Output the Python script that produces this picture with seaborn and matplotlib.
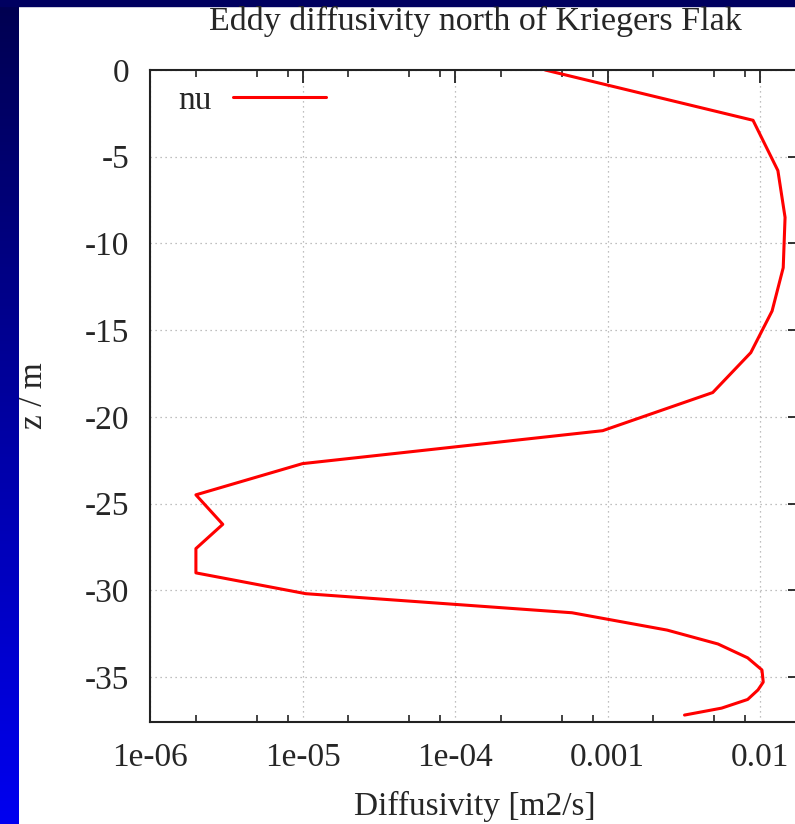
import numpy as np
import matplotlib
matplotlib.use('Agg')
import matplotlib.pyplot as plt
import seaborn as sns
from matplotlib.ticker import LogLocator, FixedLocator, NullFormatter, FuncFormatter

# profile
depth = [0.0, -2.9, -5.8, -8.5, -11.4, -13.9, -16.3, -18.6, -20.8, -22.7,
         -24.5, -26.2, -27.6, -29.0, -30.2, -31.3, -32.3, -33.1, -33.9,
         -34.6, -35.3, -35.75, -36.3, -36.8, -37.2]
nu = [3.9e-4, 9.0e-3, 1.31e-2, 1.46e-2, 1.42e-2, 1.20e-2, 8.7e-3, 4.9e-3,
      9.3e-4, 1.0e-5, 2.0e-6, 3.0e-6, 2.0e-6, 2.0e-6, 1.05e-5, 5.85e-4,
      2.46e-3, 5.3e-3, 8.3e-3, 1.03e-2, 1.05e-2, 9.7e-3, 8.3e-3, 5.6e-3,
      3.2e-3]
xticks = [1e-6, 1e-5, 1e-4, 1e-3, 1e-2]
xticklabels = ['1e-06', '1e-05', '1e-04', '0.001', '0.01']
yticks = [0, -5, -10, -15, -20, -25, -30, -35]

sns.set_theme(style='white')
plt.rcParams['font.family'] = ['Liberation Serif', 'DejaVu Serif']
fs = 24

fig = plt.figure(figsize=(7.95, 8.24), dpi=100)

# slide background: blue strip on the left and a thin band on top
bg = fig.add_axes([0, 0, 1, 1], zorder=-10)
grad = np.linspace(0, 1, 256).reshape(-1, 1)
bg.imshow(grad, aspect='auto', extent=[0, 19 / 795, 0, 1],
          cmap=matplotlib.colors.LinearSegmentedColormap.from_list(
              'b', ['#0000f0', '#000050']), origin='lower')
bg.axhspan(1 - 6 / 824, 1, color='#000060')
bg.set_xlim(0, 1)
bg.set_ylim(0, 1)
bg.axis('off')

ax = fig.add_axes([150 / 795, 102 / 824, 650 / 795, 652 / 824])
df = {'nu': nu, 'z': depth}
sns.lineplot(x='nu', y='z', data=df, ax=ax, color='#ff0000', lw=2.2,
             sort=False, estimator=None, label='nu')

ax.set_xscale('log')
ax.set_xlim(1e-6, 10 ** (-6 + 650 / 152.5))
ax.set_ylim(-37.6, 0)

ax.xaxis.set_major_locator(FixedLocator(xticks))
ax.xaxis.set_major_formatter(FuncFormatter(
    lambda v, p: xticklabels[xticks.index(v)] if v in xticks else ''))
ax.xaxis.set_minor_locator(LogLocator(base=10, subs=[2, 5, 8]))
ax.xaxis.set_minor_formatter(NullFormatter())
ax.set_yticks(yticks)
ax.set_yticklabels([str(t) for t in yticks])

ax.tick_params(axis='both', which='major', direction='in', length=9, width=1.3,
               top=True, right=True, labelsize=fs, color='#222222')
ax.tick_params(axis='y', which='major', pad=15)
ax.tick_params(axis='x', which='major', pad=15)
ax.tick_params(axis='x', which='minor', direction='in', length=5, width=1.2,
               top=True, bottom=True, color='#222222')

ax.grid(True, which='major', ls=(0, (1, 3)), color='#aaaaaa', lw=0.9)
for s in ax.spines.values():
    s.set_color('#222222')
    s.set_linewidth(1.5)

ax.set_title('Eddy diffusivity north of Kriegers Flak', fontsize=24.5, pad=29)
ax.set_xlabel('Diffusivity [m2/s]', fontsize=fs, labelpad=13)
ax.set_ylabel('z / m', fontsize=fs, labelpad=26)

ax.legend(loc='upper left', bbox_to_anchor=(28 / 650, 1 - 15 / 652),
          frameon=False, markerfirst=False, fontsize=fs,
          handlelength=2.8, handletextpad=0.65, borderaxespad=0,
          borderpad=0)

fig.savefig('out.png', dpi=100)
